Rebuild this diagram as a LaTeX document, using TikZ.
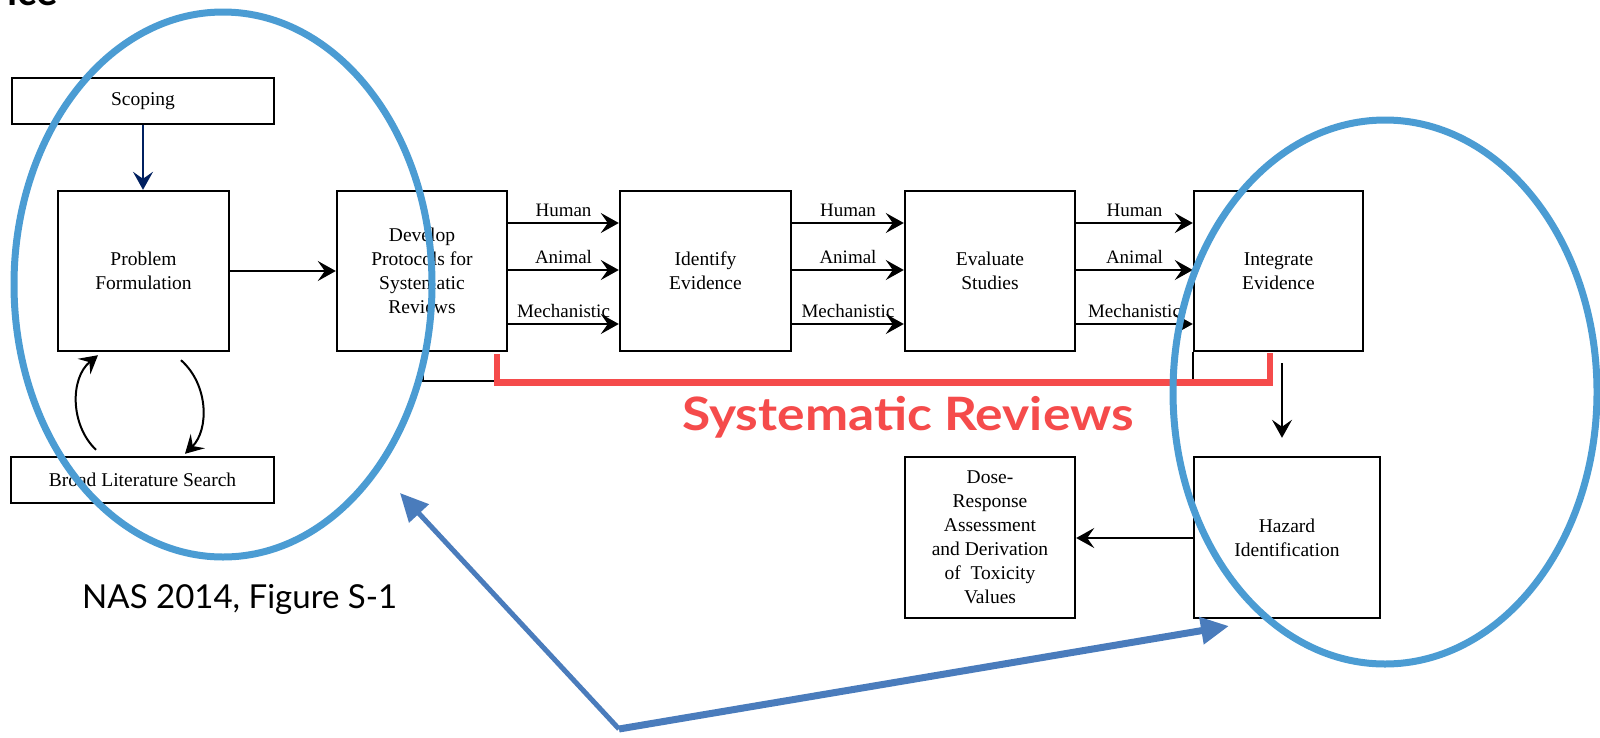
\documentclass[tikz,border=0pt]{standalone}
\usepackage{fontspec}
\setmainfont{Liberation Serif}
\newfontfamily\slidefont{Lato}
\newfontfamily\bannerfont[FakeStretch=1.12]{Lato}
\usetikzlibrary{arrows.meta,calc}
\definecolor{ringblue}{RGB}{75,156,211}
\definecolor{pointblue}{RGB}{74,124,188}
\definecolor{srred}{RGB}{245,75,75}
\definecolor{navyarrow}{RGB}{0,32,96}
\begin{document}
\begin{tikzpicture}[x=1pt,y=-1pt,
  box/.style={draw, line width=2.4pt, inner sep=2pt, align=center,
    font=\fontsize{19.5}{24}\selectfont},
  flow/.style={line width=2pt, -{Stealth[length=18pt,width=20pt,inset=7pt]}},
  lbl/.style={font=\fontsize{19}{22}\selectfont, inner sep=1pt, above=4pt},
  ring/.style={ringblue, line width=7pt},
  pointer/.style={pointblue, -{Triangle[length=28pt,width=26pt]}},
]
\useasboundingbox (0,0) rectangle (1600,737);
\clip (0,0) rectangle (1600,737);
\fill[white] (0,0) rectangle (1600,737);

% slide title, cut by the top edge
\node[font=\slidefont\bfseries\fontsize{40}{40}\selectfont, anchor=base west, inner sep=0] (slidetitle) at (7,5) {ice};

% process boxes
\node[box, minimum width=262pt, minimum height=46pt] (scoping) at (143,101) {Scoping};
\node[box, minimum width=171pt, minimum height=160pt] (problem) at (143.5,271) {Problem\\Formulation};
\node[box, minimum width=170pt, minimum height=160pt] (develop) at (422,271) {Develop\\Protocols for\\Systematic\\Reviews};
\node[box, minimum width=171pt, minimum height=160pt] (identify) at (705.5,271) {Identify\\Evidence};
\node[box, minimum width=170pt, minimum height=160pt] (evaluate) at (990,271) {Evaluate\\Studies};
\node[box, minimum width=169pt, minimum height=160pt] (integrate) at (1278.5,271) {Integrate\\Evidence};
\node[box, minimum width=263pt, minimum height=46pt] (broad) at (142.5,480) {Broad Literature Search};
\node[box, minimum width=186pt, minimum height=161pt] (hazard) at (1287,537.5) {Hazard\\Identification};
\node[box, minimum width=170pt, minimum height=161pt] (dose) at (990,537.5) {Dose-\\Response\\Assessment\\and Derivation\\of~~Toxicity\\Values};

% connectors
\draw[flow, navyarrow] (scoping.south) -- (scoping.south |- problem.north);
\draw[flow] (problem) -- (develop);
\foreach \a/\b in {develop/identify, identify/evaluate, evaluate/integrate} {
  \draw[flow] (\a.east |- 0,223) -- node[lbl]{Human} (\b.west |- 0,223);
  \draw[flow] (\a.east |- 0,270) -- node[lbl]{Animal} (\b.west |- 0,270);
  \draw[flow] (\a.east |- 0,324) -- node[lbl]{Mechanistic} (\b.west |- 0,324);
}
\draw[flow] ($(broad.north)+(-46.5,-6)$) .. controls (70,425) and (70,378) .. ($(problem.south)+(-45.5,3)$);
\draw[flow] ($(problem.south)+(37.5,8)$) .. controls (209,385) and (209,430) .. ($(broad.north)+(42.5,-2)$);
\draw[flow, line width=1.8pt] ($(integrate.south)+(3.5,11)$) -- ($(hazard.north)+(-5,-18)$);
\draw[flow] (hazard.west |- 0,538) -- (dose.east |- 0,538);

% bracket spanning the systematic review steps
\draw[line width=1.8pt] ($(develop.south)+(1,0)$) -- ++(0,29) -| (integrate.south west);
\draw[srred, line width=6.5pt] ($(develop.south east)+(-11,2)$) -- ++(0,28.5) -| ($(integrate.south)+(-8.5,1)$);
\node[font=\bannerfont\bfseries\fontsize{46}{50}\selectfont, text=srred, anchor=base west, inner sep=0] (srtitle) at (682,430) {Systematic Reviews};

% source
\node[font=\slidefont\fontsize{33}{36}\selectfont, anchor=base west, inner sep=0] (source) at (82,608) {NAS 2014, Figure S-1};

% highlight rings
\draw[ring] (223,284.5) ellipse [x radius=209pt, y radius=272.5pt];
\draw[ring] (1385,392) ellipse [x radius=212pt, y radius=272pt];

% pointers
\coordinate (vertex) at (619,729);
\coordinate (leftaim) at (400,493);
\coordinate (rightaim) at (1229,626);
\draw[pointer, line width=5pt] (vertex) -- (leftaim);
\draw[pointer, line width=7pt] (vertex) -- (rightaim);
\end{tikzpicture}
\end{document}
